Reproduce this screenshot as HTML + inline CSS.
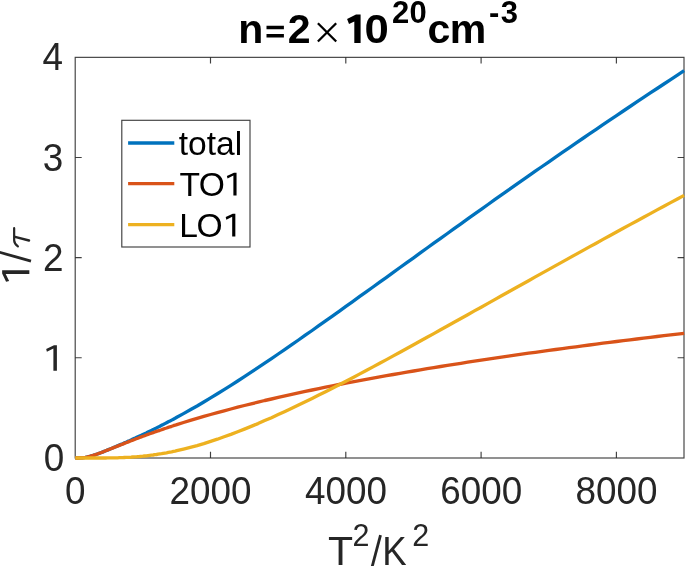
<!DOCTYPE html>
<html>
<head>
<meta charset="utf-8">
<title>1/tau vs T^2</title>
<style>
  html, body { margin: 0; padding: 0; background: #ffffff; }
  body { width: 685px; height: 566px; overflow: hidden; font-family: "Liberation Sans", sans-serif; }
  svg { display: block; }
  .tick, .lbl, .ttl, .leg { filter: grayscale(1); }
  text { font-family: "Liberation Sans", sans-serif; }
  .tick { font-size: 37.33px; fill: #262626; }
  .lbl  { font-size: 41.07px; fill: #262626; }
  .ttl  { font-size: 41.07px; font-weight: bold; fill: #000000; }
  .leg  { font-size: 33.6px; fill: #000000; }
</style>
</head>
<body>
<svg width="685" height="566" viewBox="0 0 685 566">
  <rect x="0" y="0" width="685" height="566" fill="#ffffff"/>

  <defs>
    <path id="one" d="M0.366,0 L0.272,0 L0.272,-0.592 L0.098,-0.505 L0.079,-0.582 L0.288,-0.68 L0.366,-0.68 Z"/>
    <path id="oneb" d="M0.335,0 L0.182,0 L0.182,-0.526 L0.053,-0.463 L0.006,-0.584 L0.223,-0.692 L0.335,-0.692 Z"/>
  </defs>
  <!-- data curves (clipped to axes) -->
  <clipPath id="ax"><rect x="74" y="56" width="611" height="404"/></clipPath>

  <!-- axes box -->
  <g stroke="#262626" stroke-width="1.15" stroke-opacity="0.88" fill="none">
    <rect x="75.2" y="57.35" width="608.8" height="400.65"/>
    <!-- x ticks bottom & top -->
    <path d="M210.5 458v-6.3 M345.8 458v-6.3 M481.1 458v-6.3 M616.4 458v-6.3"/>
    <path d="M210.5 57.3v6.3 M345.8 57.3v6.3 M481.1 57.3v6.3 M616.4 57.3v6.3"/>
    <!-- y ticks left & right -->
    <path d="M75.2 357.7h6.5 M75.2 257.6h6.5 M75.2 157.5h6.5"/>
    <path d="M684 357.7h-6.4 M684 257.6h-6.4 M684 157.5h-6.4"/>
  </g>

  <g clip-path="url(#ax)" fill="none" stroke-width="3.33" stroke-linejoin="round" stroke-linecap="butt">
    <polyline stroke="#0072BD" points="75.3,458.0 77.0,458.0 78.7,458.0 80.4,457.9 82.1,457.8 83.8,457.6 85.4,457.4 87.1,457.0 88.8,456.6 90.5,456.2 92.2,455.7 93.9,455.1 95.6,454.6 97.3,454.0 99.0,453.4 100.7,452.7 102.4,452.1 104.1,451.4 105.7,450.8 107.4,450.1 109.1,449.4 110.8,448.7 112.5,448.0 114.2,447.3 115.9,446.6 117.6,445.8 119.3,445.1 121.0,444.4 122.7,443.7 124.3,442.9 126.0,442.2 127.7,441.4 129.4,440.7 131.1,439.9 132.8,439.1 134.5,438.4 136.2,437.6 137.9,436.8 139.6,436.0 141.3,435.3 142.9,434.5 144.6,433.7 146.3,432.9 148.0,432.0 149.7,431.2 151.4,430.4 153.1,429.6 154.8,428.7 156.5,427.9 158.2,427.1 159.9,426.2 161.6,425.3 163.2,424.5 164.9,423.6 166.6,422.7 168.3,421.8 170.0,421.0 171.7,420.1 173.4,419.2 175.1,418.3 176.8,417.3 183.5,413.6 190.3,409.8 197.1,406.0 203.8,402.0 210.6,397.9 217.4,393.8 224.1,389.6 230.9,385.3 237.7,381.0 244.4,376.6 251.2,372.2 258.0,367.7 264.7,363.2 271.5,358.6 278.2,354.0 285.0,349.4 291.8,344.7 298.5,340.0 305.3,335.2 312.1,330.5 318.8,325.7 325.6,320.9 332.4,316.1 339.1,311.3 345.9,306.4 352.7,301.6 359.4,296.7 366.2,291.9 373.0,287.0 379.7,282.1 386.5,277.3 393.3,272.4 400.0,267.5 406.8,262.6 413.6,257.8 420.3,252.9 427.1,248.0 433.8,243.2 440.6,238.3 447.4,233.5 454.1,228.6 460.9,223.8 467.7,218.9 474.4,214.1 481.2,209.3 488.0,204.5 494.7,199.7 501.5,194.9 508.3,190.2 515.0,185.4 521.8,180.7 528.6,175.9 535.3,171.2 542.1,166.5 548.9,161.8 555.6,157.1 562.4,152.4 569.1,147.8 575.9,143.1 582.7,138.5 589.4,133.9 596.2,129.3 603.0,124.7 609.7,120.1 616.5,115.6 623.3,111.0 630.0,106.5 636.8,101.9 643.6,97.4 650.3,92.9 657.1,88.5 663.9,84.0 670.6,79.6 677.4,75.1 684.1,70.7"/>
    <polyline stroke="#D95319" points="75.3,458.0 77.0,458.0 78.7,458.0 80.4,457.9 82.1,457.8 83.8,457.6 85.4,457.4 87.1,457.0 88.8,456.6 90.5,456.2 92.2,455.7 93.9,455.1 95.6,454.6 97.3,454.0 99.0,453.4 100.7,452.8 102.4,452.1 104.1,451.5 105.7,450.8 107.4,450.1 109.1,449.5 110.8,448.8 112.5,448.1 114.2,447.4 115.9,446.8 117.6,446.1 119.3,445.4 121.0,444.7 122.7,444.1 124.3,443.4 126.0,442.7 127.7,442.1 129.4,441.4 131.1,440.8 132.8,440.1 134.5,439.5 136.2,438.8 137.9,438.2 139.6,437.5 141.3,436.9 142.9,436.3 144.6,435.7 146.3,435.0 148.0,434.4 149.7,433.8 151.4,433.2 153.1,432.6 154.8,432.0 156.5,431.4 158.2,430.8 159.9,430.3 161.6,429.7 163.2,429.1 164.9,428.5 166.6,428.0 168.3,427.4 170.0,426.8 171.7,426.3 173.4,425.7 175.1,425.2 176.8,424.6 183.5,422.5 190.3,420.4 197.1,418.4 203.8,416.4 210.6,414.5 217.4,412.6 224.1,410.8 230.9,409.0 237.7,407.2 244.4,405.5 251.2,403.8 258.0,402.2 264.7,400.5 271.5,399.0 278.2,397.4 285.0,395.9 291.8,394.4 298.5,392.9 305.3,391.4 312.1,390.0 318.8,388.6 325.6,387.2 332.4,385.9 339.1,384.5 345.9,383.2 352.7,381.9 359.4,380.6 366.2,379.4 373.0,378.1 379.7,376.9 386.5,375.7 393.3,374.5 400.0,373.3 406.8,372.1 413.6,371.0 420.3,369.8 427.1,368.7 433.8,367.6 440.6,366.5 447.4,365.4 454.1,364.3 460.9,363.3 467.7,362.2 474.4,361.2 481.2,360.2 488.0,359.1 494.7,358.1 501.5,357.1 508.3,356.2 515.0,355.2 521.8,354.2 528.6,353.2 535.3,352.3 542.1,351.4 548.9,350.4 555.6,349.5 562.4,348.6 569.1,347.7 575.9,346.8 582.7,345.9 589.4,345.0 596.2,344.1 603.0,343.2 609.7,342.4 616.5,341.5 623.3,340.7 630.0,339.8 636.8,339.0 643.6,338.2 650.3,337.3 657.1,336.5 663.9,335.7 670.6,334.9 677.4,334.1 684.1,333.3"/>
    <polyline stroke="#EDB120" points="75.3,458.0 77.0,458.0 78.7,458.0 80.4,458.0 82.1,458.0 83.8,458.0 85.4,458.0 87.1,458.0 88.8,458.0 90.5,458.0 92.2,458.0 93.9,458.0 95.6,458.0 97.3,458.0 99.0,458.0 100.7,458.0 102.4,458.0 104.1,458.0 105.7,458.0 107.4,457.9 109.1,457.9 110.8,457.9 112.5,457.9 114.2,457.8 115.9,457.8 117.6,457.8 119.3,457.7 121.0,457.6 122.7,457.6 124.3,457.5 126.0,457.4 127.7,457.3 129.4,457.3 131.1,457.2 132.8,457.0 134.5,456.9 136.2,456.8 137.9,456.6 139.6,456.5 141.3,456.3 142.9,456.2 144.6,456.0 146.3,455.8 148.0,455.6 149.7,455.4 151.4,455.2 153.1,455.0 154.8,454.7 156.5,454.5 158.2,454.2 159.9,453.9 161.6,453.7 163.2,453.4 164.9,453.1 166.6,452.8 168.3,452.4 170.0,452.1 171.7,451.8 173.4,451.4 175.1,451.1 176.8,450.7 183.5,449.1 190.3,447.4 197.1,445.6 203.8,443.6 210.6,441.4 217.4,439.2 224.1,436.8 230.9,434.4 237.7,431.8 244.4,429.1 251.2,426.4 258.0,423.6 264.7,420.6 271.5,417.7 278.2,414.6 285.0,411.5 291.8,408.3 298.5,405.1 305.3,401.8 312.1,398.5 318.8,395.1 325.6,391.7 332.4,388.2 339.1,384.7 345.9,381.2 352.7,377.7 359.4,374.1 366.2,370.5 373.0,366.9 379.7,363.2 386.5,359.6 393.3,355.9 400.0,352.2 406.8,348.5 413.6,344.8 420.3,341.0 427.1,337.3 433.8,333.6 440.6,329.8 447.4,326.0 454.1,322.3 460.9,318.5 467.7,314.7 474.4,310.9 481.2,307.2 488.0,303.4 494.7,299.6 501.5,295.8 508.3,292.0 515.0,288.2 521.8,284.5 528.6,280.7 535.3,276.9 542.1,273.1 548.9,269.4 555.6,265.6 562.4,261.9 569.1,258.1 575.9,254.4 582.7,250.6 589.4,246.9 596.2,243.2 603.0,239.4 609.7,235.7 616.5,232.0 623.3,228.3 630.0,224.6 636.8,221.0 643.6,217.3 650.3,213.6 657.1,209.9 663.9,206.3 670.6,202.6 677.4,199.0 684.1,195.4"/>
  </g>

  <!-- y tick labels -->
  <g class="tick" text-anchor="end" style="font-size:38.4px">
    <text x="62.9" y="70.2" textLength="20.5" lengthAdjust="spacingAndGlyphs">4</text>
    <text x="63.2" y="170.5" textLength="20.5" lengthAdjust="spacingAndGlyphs">3</text>
    <text x="63.4" y="270.5" textLength="20.5" lengthAdjust="spacingAndGlyphs">2</text>
    <use href="#one" fill="#262626" transform="translate(43.24 370.65) scale(37.33)"/>
    <text x="64.2" y="471.3" textLength="20.5" lengthAdjust="spacingAndGlyphs">0</text>
  </g>
  <!-- x tick labels -->
  <g class="tick" text-anchor="middle" style="font-size:38.4px">
    <text x="75.3" y="504.1" textLength="20.5" lengthAdjust="spacingAndGlyphs">0</text>
    <text x="210.6" y="504.1" textLength="82.0" lengthAdjust="spacingAndGlyphs">2000</text>
    <text x="345.9" y="504.1" textLength="82.0" lengthAdjust="spacingAndGlyphs">4000</text>
    <text x="481.2" y="504.1" textLength="82.0" lengthAdjust="spacingAndGlyphs">6000</text>
    <text x="616.5" y="504.1" textLength="82.0" lengthAdjust="spacingAndGlyphs">8000</text>
  </g>

  <!-- x label -->
  <g class="lbl">
    <text x="328.1" y="565.2">T</text>
    <text x="352.6" y="545.8" font-size="30.5">2</text>
    <path d="M372.2 566.5L380.5 535.2" stroke="#262626" stroke-width="2.8" fill="none"/>
    <text x="382.3" y="565.2" textLength="24.4" lengthAdjust="spacingAndGlyphs">K</text>
    <text x="412.3" y="545.8" font-size="30.5">2</text>
  </g>

  <!-- y label: 1 / tau drawn as shapes (rotated text) -->
  <g fill="#262626">
    <use href="#one" transform="translate(29.35 284.9) rotate(-90) scale(40)"/>
  </g>
  <g fill="none" stroke="#262626" stroke-linecap="round">
    <path d="M31 261.1L-1 252.1" stroke-width="2.8" stroke-linecap="butt"/>
    <path d="M14.15 228.2V240.2Q14.2 243.6 17.9 246.3" stroke-width="2.2"/>
    <path d="M15 236.9L29 240.5" stroke-width="2.5"/>
  </g>

  <!-- title -->
  <g class="ttl">
    <text x="238.2" y="42.7">n</text>
    <path d="M266.5 25.8h17.4v3.5h-17.4z M266.5 34.1h17.4v3.5h-17.4z" fill="#000"/>
    <text x="287.7" y="42.7">2</text>
    <path d="M317.9 23.3L336.2 41.5M336.2 23.3L317.9 41.5" stroke="#000" stroke-width="2.3" fill="none"/>
    <use href="#oneb" fill="#000" transform="translate(346.84 43) scale(41.07)"/>
    <text x="364.6" y="42.7" textLength="24.3" lengthAdjust="spacingAndGlyphs">0</text>
    <text x="392.1" y="22.9" font-size="31">2</text>
    <text x="409.6" y="22.9" font-size="31">0</text>
    <text x="427.5" y="42.7">c</text>
    <text x="449.7" y="42.7">m</text>
    <text x="489.1" y="22.9" font-size="31">-</text>
    <text x="500.7" y="22.9" font-size="31">3</text>
  </g>

  <!-- legend -->
  <rect x="121.8" y="120.3" width="128.2" height="126.7" fill="#ffffff" stroke="#262626" stroke-width="1.15" stroke-opacity="0.88"/>
  <g fill="none" stroke-width="3.33">
    <path stroke="#0072BD" d="M128.1 143.0H174.3"/>
    <path stroke="#D95319" d="M128.1 183.7H174.3"/>
    <path stroke="#EDB120" d="M128.1 224.6H174.3"/>
  </g>
  <g class="leg">
    <text x="178.75" y="154.9">total</text>
    <text x="179.4" y="195.5">T</text>
    <text x="198.8" y="195.5">O</text>
    <use href="#one" transform="translate(224.25 195.5) scale(33.6)"/>
    <text x="179.3" y="236.6">L</text>
    <text x="196.6" y="236.6">O</text>
    <use href="#one" transform="translate(223.05 236.6) scale(33.6)"/>
  </g>
</svg>
</body>
</html>
